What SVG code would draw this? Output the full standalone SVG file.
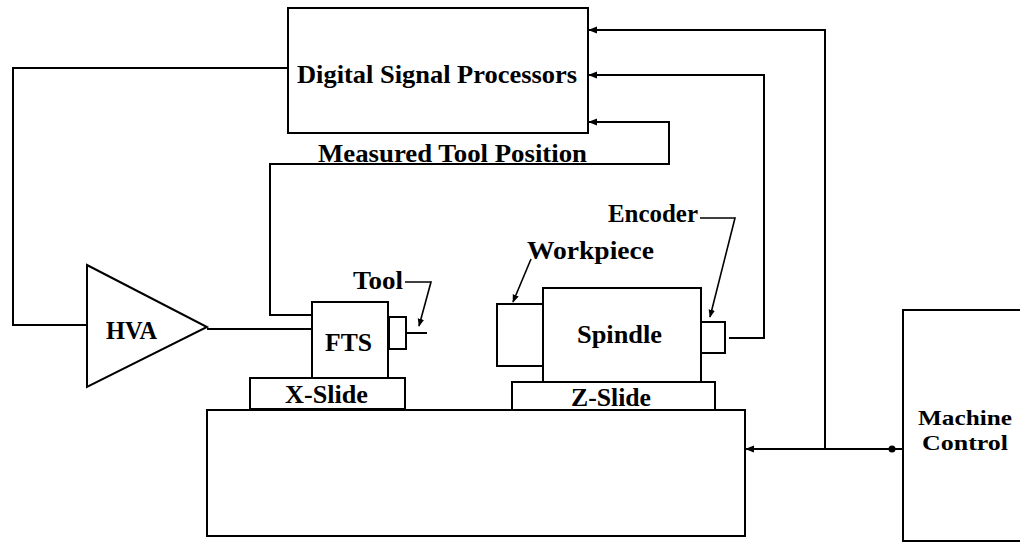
<svg xmlns="http://www.w3.org/2000/svg" width="1020" height="543" viewBox="0 0 1020 543">
<style>
.box{fill:none;stroke:#000;stroke-width:2}
.ln{fill:none;stroke:#000;stroke-width:2}
.ld{fill:none;stroke:#000;stroke-width:1.6}
.t{font-family:"Liberation Serif","Times New Roman",serif;font-weight:bold;font-size:25px;fill:#000}
.ts{font-size:22px}
</style>
<defs>
<marker id="ah" viewBox="0 0 10 10" refX="9" refY="5" markerWidth="4.5" markerHeight="4.5" orient="auto" markerUnits="strokeWidth">
<path d="M0,1 L10,5 L0,9 Z" fill="#000"/>
</marker>
<marker id="ahs" viewBox="0 0 10 10" refX="9" refY="5" markerWidth="5" markerHeight="5" orient="auto" markerUnits="strokeWidth">
<path d="M0,1 L10,5 L0,9 Z" fill="#000"/>
</marker>
</defs>
<rect width="1020" height="543" fill="#fff"/>

<g id="dsp">
<rect class="box" x="288" y="8" width="300" height="125"/>
<text class="t" x="297" y="83" textLength="280" lengthAdjust="spacingAndGlyphs">Digital Signal Processors</text>
</g>

<g id="hva">
<polygon class="box" points="87,265 87,387 207,327"/>
<text class="t" x="106" y="339" textLength="51" lengthAdjust="spacingAndGlyphs">HVA</text>
</g>

<g id="fts">
<rect class="box" x="312" y="302" width="76" height="76"/>
<text class="t" x="325" y="351" textLength="47" lengthAdjust="spacingAndGlyphs">FTS</text>
</g>

<g id="tool">
<rect class="box" x="389" y="317" width="17" height="32"/>
<path class="ln" d="M406,333 H427"/>
<text class="t" x="353" y="289" textLength="50" lengthAdjust="spacingAndGlyphs">Tool</text>
</g>

<g id="xslide">
<rect class="box" x="250" y="378" width="155" height="31"/>
<text class="t" x="285" y="403" textLength="83" lengthAdjust="spacingAndGlyphs">X-Slide</text>
</g>

<g id="base">
<rect class="box" x="207" y="410" width="538" height="126"/>
</g>

<g id="zslide">
<rect class="box" x="512" y="382" width="203" height="28"/>
<text class="t" x="571" y="406" textLength="80" lengthAdjust="spacingAndGlyphs">Z-Slide</text>
</g>

<g id="spindle">
<rect class="box" x="543" y="288" width="158" height="94"/>
<text class="t" x="577" y="343" textLength="85" lengthAdjust="spacingAndGlyphs">Spindle</text>
</g>

<g id="workpiece">
<rect class="box" x="497" y="304" width="46" height="62"/>
<text class="t" x="527" y="259" textLength="127" lengthAdjust="spacingAndGlyphs">Workpiece</text>
</g>

<g id="encoder">
<rect class="box" x="701" y="322" width="24" height="31"/>
<text class="t" x="608" y="222" textLength="90" lengthAdjust="spacingAndGlyphs">Encoder</text>
</g>

<g id="machine-control">
<rect class="box" x="903" y="310" width="130" height="231"/>
<text class="t ts" x="918" y="425" textLength="94" lengthAdjust="spacingAndGlyphs">Machine</text>
<text class="t ts" x="922" y="450" textLength="86" lengthAdjust="spacingAndGlyphs">Control</text>
</g>

<g id="measured-label">
<text class="t" x="318" y="162" textLength="269" lengthAdjust="spacingAndGlyphs">Measured Tool Position</text>
</g>

<g id="connectors">
<path class="ln" d="M288,68 H13 V325 H87"/>
<path class="ln" d="M207,329 H312"/>
<path class="ln" d="M312,315 H270 V164 H669 V122 H589" marker-end="url(#ah)"/>
<path class="ln" d="M729,338 H764 V75 H589" marker-end="url(#ah)"/>
<path class="ln" d="M825,449 V30 H589" marker-end="url(#ah)"/>
<path class="ln" d="M903,449 H746" marker-end="url(#ah)"/>
<circle cx="892" cy="449" r="3.5" fill="#000"/>
<path class="ld" d="M405,282 H431 L419,326" marker-end="url(#ahs)"/>
<path class="ld" d="M531,259 L513,302" marker-end="url(#ahs)"/>
<path class="ld" d="M700,218 H735 L710,317" marker-end="url(#ahs)"/>
</g>
</svg>
